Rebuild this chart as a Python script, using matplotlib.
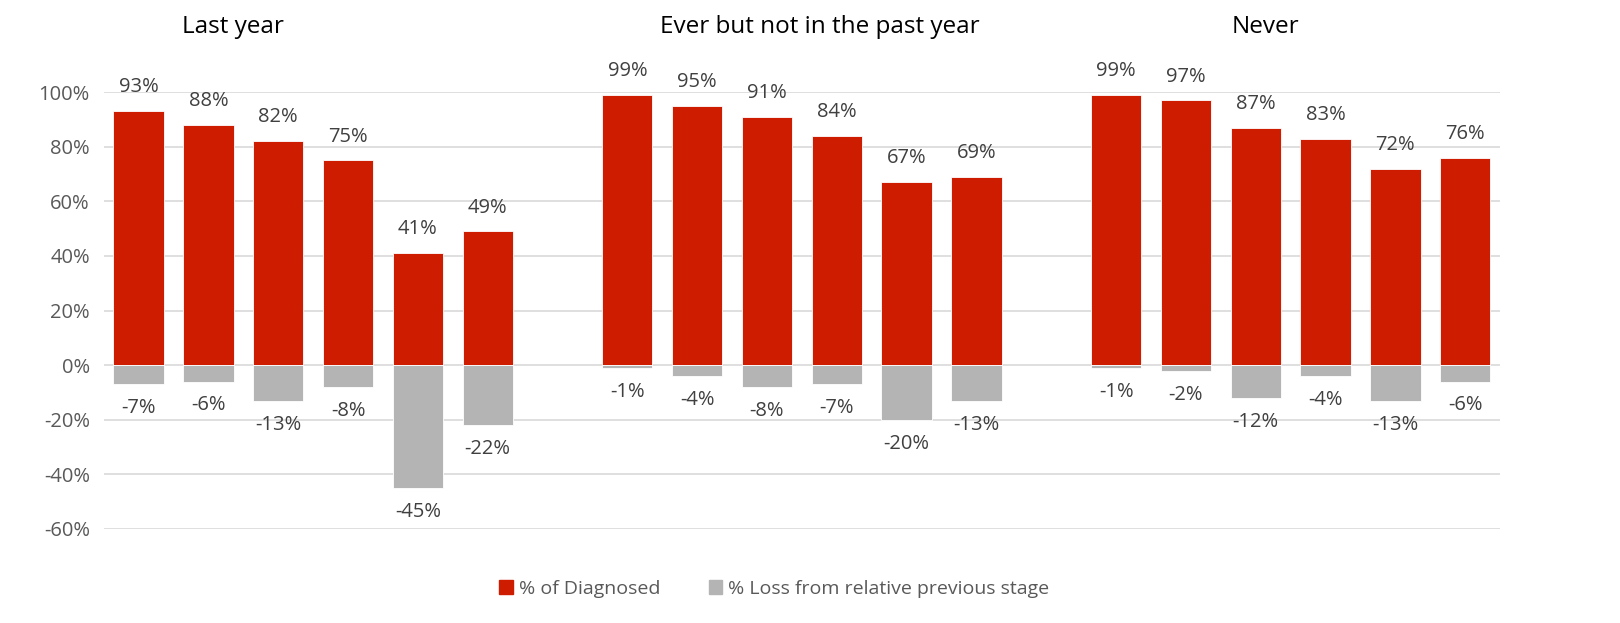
import numpy as np
import matplotlib.pyplot as plt
from matplotlib.patches import Patch

plt.rcParams['font.family'] = ['Open Sans', 'DejaVu Sans']

# Data (values in %)
groups = ["Last year", "Ever but not in the past year", "Never"]
diagnosed = [
    [93, 88, 82, 75, 41, 49],
    [99, 95, 91, 84, 67, 69],
    [99, 97, 87, 83, 72, 76],
]
loss = [
    [-7, -6, -13, -8, -45, -22],
    [-1, -4, -8, -7, -20, -13],
    [-1, -2, -12, -4, -13, -6],
]
title_pos = [1.35, 9.76, 16.14]  # group title x positions (in bar slots)

red = "#CD1C00"
gray = "#B4B4B4"
txt = "#404040"

fig = plt.figure(figsize=(16.2, 6.23), dpi=100)
ax = fig.add_axes([0.064, 0.151, 0.862, 0.701])

for g in range(3):
    x = np.arange(6) + g * 7
    ax.bar(x, diagnosed[g], width=0.72, color=red, edgecolor="white", linewidth=0.6, zorder=2)
    ax.bar(x, loss[g], width=0.72, color=gray, edgecolor="white", linewidth=0.6, zorder=2)
    for xi, v in zip(x, diagnosed[g]):
        ax.annotate(f"{v}%", (xi, v), xytext=(0, 10), textcoords="offset points",
                    ha="center", va="bottom", fontsize=14.5, color=txt, annotation_clip=False)
    for xi, v in zip(x, loss[g]):
        ax.annotate(f"{v}%", (xi, v), xytext=(0, -10), textcoords="offset points",
                    ha="center", va="top", fontsize=14.5, color=txt, annotation_clip=False)
    ax.text(title_pos[g], 124, groups[g], ha="center", va="center", fontsize=17.5,
            color="black", clip_on=False)

ax.set_xlim(-0.5, 19.5)
ax.set_ylim(-60, 100)
ax.set_yticks(np.arange(-60, 101, 20))
ax.set_yticklabels([f"{t}%" for t in range(-60, 101, 20)])
ax.set_xticks([])
ax.tick_params(axis="y", length=0, labelsize=14.5, labelcolor="#595959", pad=10)
ax.grid(axis="y", color="#D9D9D9", linewidth=1.2, zorder=0)
ax.set_axisbelow(True)
for s in ax.spines.values():
    s.set_visible(False)

handles = [Patch(color=red, label="% of Diagnosed"),
           Patch(color=gray, label="% Loss from relative previous stage")]
fig.legend(handles=handles, loc="center", bbox_to_anchor=(0.478, 0.055), ncol=2,
           frameon=False, fontsize=14, handlelength=0.7, handleheight=0.7,
           handletextpad=0.3, columnspacing=2.5, labelcolor="#595959")

fig.savefig("out.png", dpi=100)
